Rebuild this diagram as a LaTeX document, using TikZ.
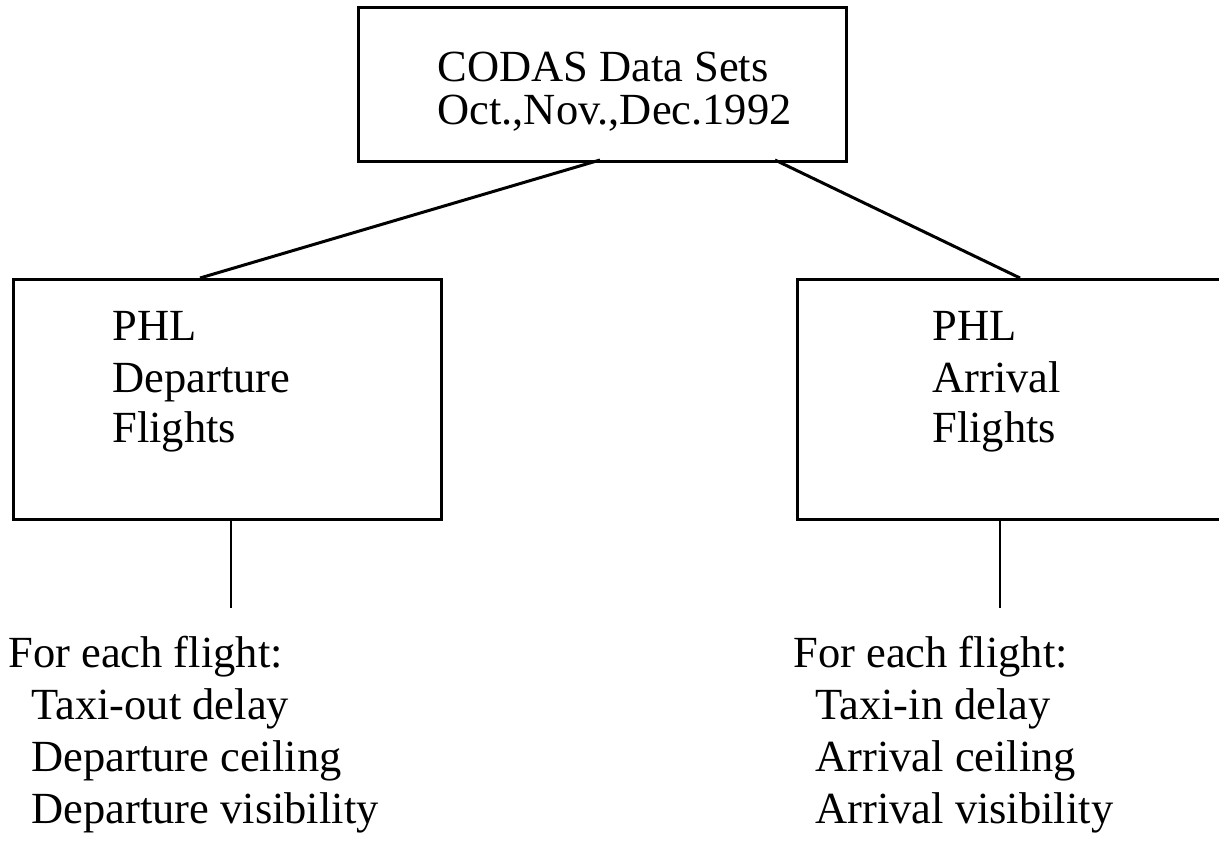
\documentclass[tikz,border=0pt]{standalone}
\usepackage{fontspec}
\setmainfont{Liberation Serif}
\begin{document}
\begin{tikzpicture}[x=0.5pt,y=-0.5pt,
  box/.style={draw, line width=1.5pt, anchor=north west, inner sep=0pt},
  conn/.style={line width=1.5pt},
  stem/.style={line width=1.2pt},
  lbl/.style={anchor=base west, inner sep=0pt, font=\fontsize{22.25}{26}\selectfont}]
\useasboundingbox (0,0) rectangle (1219,842);
\clip (0,0) rectangle (1219,842);
% boxes
\node[box, minimum width=244pt, minimum height=77pt] (top) at (357,6) {};
\node[box, minimum width=214pt, minimum height=120pt] (left) at (12,278) {};
\node[box, minimum width=222pt, minimum height=120pt] (right) at (796,278) {};
% box texts
\node[lbl] (t1) at (437,81) {CODAS Data Sets};
\node[lbl] (t2) at (437,124) {Oct.,Nov.,Dec.1992};
\node[lbl] (l1) at (112,340) {PHL};
\node[lbl] (l2) at (112,392) {Departure};
\node[lbl] (l3) at (112,442) {Flights};
\node[lbl] (r1) at (932,340) {PHL};
\node[lbl] (r2) at (932,392) {Arrival};
\node[lbl] (r3) at (932,442) {Flights};
% connectors
\coordinate (tl) at (600,160);
\coordinate (tr) at (775,160);
\coordinate (dl) at (200,278);
\coordinate (dr) at (1020,278);
\draw[conn] (tl) -- (dl);
\draw[conn] (tr) -- (dr);
\coordinate (sl) at (231,608);
\coordinate (sr) at (1000,608);
\draw[stem] (sl |- left.south) -- (sl);
\draw[stem] (sr |- right.south) -- (sr);
% lists
\node[lbl] (a1) at (8,667) {For each flight:};
\node[lbl] (a2) at (31,719) {Taxi-out delay};
\node[lbl] (a3) at (31,771) {Departure ceiling};
\node[lbl] (a4) at (31,823) {Departure visibility};
\node[lbl] (b1) at (793,667) {For each flight:};
\node[lbl] (b2) at (815,719) {Taxi-in delay};
\node[lbl] (b3) at (815,771) {Arrival ceiling};
\node[lbl] (b4) at (815,823) {Arrival visibility};
\end{tikzpicture}
\end{document}
